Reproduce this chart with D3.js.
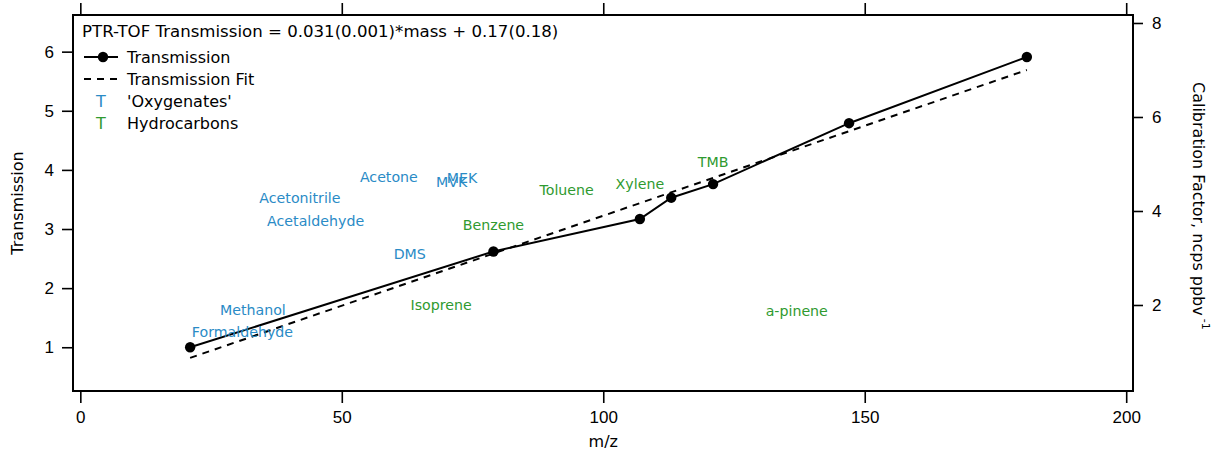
<!DOCTYPE html>
<html>
<head>
<meta charset="utf-8">
<script src="https://cdn.jsdelivr.net/npm/d3@7"></script>
<style>
  html, body { margin: 0; padding: 0; background: #fff; }
  svg { display: block; font-family: "DejaVu Sans", "Lucida Grande", sans-serif; }
</style>
</head>
<body>
<svg id="chart" width="1227" height="459"></svg>
<script>
// Measured transmission vs m/z
const mass = [21, 79, 107, 113, 121, 147, 181];
const transmission = [1.0, 2.62, 3.17, 3.53, 3.76, 4.79, 5.91];

// Linear fit endpoints
const fitMass = [21, 181];
const fitTransmission = [0.82, 5.69];

// Compound calibration factors (right axis), placed at their m/z
const oxyNames = ["Formaldehyde", "Methanol", "Acetonitrile", "Acetaldehyde", "Acetone", "DMS", "MVK", "MEK"];
const oxyMass  = [31, 33, 42, 45, 59, 63, 71, 73];
const oxyCF    = [1.43, 1.89, 4.27, 3.78, 4.72, 3.09, 4.61, 4.71];

const hcNames = ["Isoprene", "Benzene", "Toluene", "Xylene", "TMB", "a-pinene"];
const hcMass  = [69, 79, 93, 107, 121, 137];
const hcCF    = [1.99, 3.70, 4.45, 4.57, 5.05, 1.87];

const xTicks = [0, 50, 100, 150, 200];
const yLeftTicks = [1, 2, 3, 4, 5, 6];
const yRightTicks = [2, 4, 6, 8];

const fitLabel = "PTR-TOF Transmission = 0.031(0.001)*mass + 0.17(0.18)";

const blue = "#2a8bc6";
const green = "#2f9a2f";

const svg = d3.select("#chart");
const frame = { left: 73, right: 1133, top: 15, bottom: 391 };

const x = d3.scaleLinear().domain([-1.4, 201.3]).range([frame.left, frame.right]);
const yL = d3.scaleLinear().domain([0.26, 6.62]).range([frame.bottom, frame.top]);
const yR = d3.scaleLinear().domain([0.17, 8.17]).range([frame.bottom, frame.top]);

const tickFont = 17;

// Axes
const styleAxis = g => {
  g.select(".domain").remove();
  g.selectAll(".tick line").attr("stroke", "#000").attr("stroke-width", 1.6);
  g.selectAll(".tick text").attr("fill", "#000").style("font-size", tickFont + "px");
};

svg.append("g")
  .attr("transform", `translate(0,${frame.bottom})`)
  .call(d3.axisBottom(x).tickValues(xTicks).tickSize(12).tickPadding(8).tickFormat(d3.format("d")))
  .call(styleAxis);

svg.append("g")
  .attr("transform", `translate(0,${frame.top})`)
  .call(d3.axisTop(x).tickValues(xTicks).tickSize(12).tickFormat(""))
  .call(styleAxis);

svg.append("g")
  .attr("transform", `translate(${frame.left},0)`)
  .call(d3.axisLeft(yL).tickValues(yLeftTicks).tickSize(11).tickPadding(8).tickFormat(d3.format("d")))
  .call(styleAxis);

svg.append("g")
  .attr("transform", `translate(${frame.right},0)`)
  .call(d3.axisRight(yR).tickValues(yRightTicks).tickSize(10).tickPadding(9).tickFormat(d3.format("d")))
  .call(styleAxis);

// Plot frame
svg.append("rect")
  .attr("x", frame.left).attr("y", frame.top)
  .attr("width", frame.right - frame.left).attr("height", frame.bottom - frame.top)
  .attr("fill", "none").attr("stroke", "#000").attr("stroke-width", 2);

// Axis titles
const titleFont = "16px";
svg.append("text")
  .attr("transform", `translate(23,${(frame.top + frame.bottom) / 2}) rotate(-90)`)
  .attr("text-anchor", "middle")
  .style("font-size", titleFont)
  .text("Transmission");

svg.append("text")
  .attr("x", x(100)).attr("y", 447)
  .attr("text-anchor", "middle")
  .style("font-size", titleFont)
  .text("m/z");

const rTitle = svg.append("text")
  .attr("transform", `translate(1193,82) rotate(90)`)
  .style("font-size", titleFont);
rTitle.append("tspan").text("Calibration Factor, ncps ppbv");
rTitle.append("tspan").attr("dy", -9).attr("dx", 3).style("font-size", "11px").text("-1");

// Fit line (dashed)
const lineL = d3.line().x(d => x(d[0])).y(d => yL(d[1]));
svg.append("path")
  .datum(d3.zip(fitMass, fitTransmission))
  .attr("d", lineL)
  .attr("fill", "none").attr("stroke", "#000").attr("stroke-width", 2)
  .attr("stroke-dasharray", "7,6");

// Transmission line + markers
const pts = d3.zip(mass, transmission);
svg.append("path")
  .datum(pts)
  .attr("d", lineL)
  .attr("fill", "none").attr("stroke", "#000").attr("stroke-width", 2);

svg.append("g").selectAll("circle")
  .data(pts).join("circle")
  .attr("cx", d => x(d[0])).attr("cy", d => yL(d[1]))
  .attr("r", 5.2).attr("fill", "#000");

// Compound labels at (m/z, calibration factor)
const labelFont = "14.2px";
svg.append("g").selectAll("text")
  .data(d3.zip(oxyNames, oxyMass, oxyCF)).join("text")
  .attr("x", d => x(d[1])).attr("y", d => yR(d[2]))
  .attr("text-anchor", "middle").attr("dominant-baseline", "central")
  .attr("fill", blue).style("font-size", labelFont)
  .text(d => d[0]);

svg.append("g").selectAll("text")
  .data(d3.zip(hcNames, hcMass, hcCF)).join("text")
  .attr("x", d => x(d[1])).attr("y", d => yR(d[2]))
  .attr("text-anchor", "middle").attr("dominant-baseline", "central")
  .attr("fill", green).style("font-size", labelFont)
  .text(d => d[0]);

// Legend
const lg = svg.append("g").style("font-size", "16px");
lg.append("text").attr("x", 82).attr("y", 37).style("font-size", "16.6px").text(fitLabel);

const rows = [57, 79, 101, 123];
lg.append("line").attr("x1", 84).attr("x2", 118).attr("y1", rows[0]).attr("y2", rows[0])
  .attr("stroke", "#000").attr("stroke-width", 2);
lg.append("circle").attr("cx", 103).attr("cy", rows[0]).attr("r", 5.2).attr("fill", "#000");
lg.append("line").attr("x1", 84).attr("x2", 118).attr("y1", rows[1]).attr("y2", rows[1])
  .attr("stroke", "#000").attr("stroke-width", 2).attr("stroke-dasharray", "7,6");
lg.append("text").attr("x", 101).attr("y", rows[2]).attr("text-anchor", "middle")
  .attr("dominant-baseline", "central").attr("fill", blue).text("T");
lg.append("text").attr("x", 101).attr("y", rows[3]).attr("text-anchor", "middle")
  .attr("dominant-baseline", "central").attr("fill", green).text("T");

const legendNames = ["Transmission", "Transmission Fit", "'Oxygenates'", "Hydrocarbons"];
lg.selectAll("text.name").data(legendNames).join("text")
  .attr("class", "name")
  .attr("x", 127).attr("y", (d, i) => rows[i])
  .attr("dominant-baseline", "central")
  .text(d => d);
</script>
</body>
</html>
